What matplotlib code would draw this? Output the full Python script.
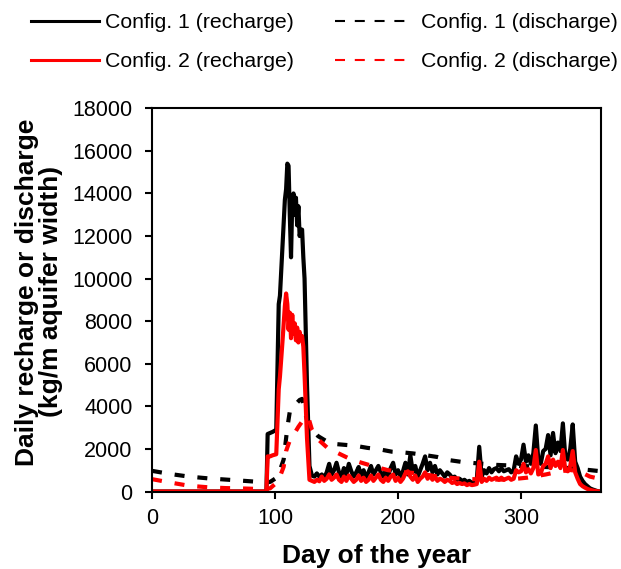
import matplotlib
matplotlib.use("Agg")
import matplotlib.pyplot as plt
from matplotlib.lines import Line2D

plt.rcParams["font.family"] = ["Liberation Sans", "DejaVu Sans"]

# recharge, spring event (day, kg/m)
early_days = [0, 93, 94, 96, 98, 101, 103, 104, 106, 108,
              109, 110, 111, 112, 113, 114, 115, 116, 117, 118,
              119, 120, 121, 122, 123, 124, 126, 128]
rc1_early = [0, 0, 2700, 2750, 2800, 2900, 8800, 9200, 11500, 13700,
             14200, 15400, 15300, 13000, 11000, 13600, 14000, 13000, 13800, 12500,
             13400, 12000, 12300, 12300, 11000, 10000, 5000, 1200]
rc2_early = [0, 0, 1650, 1650, 1700, 1750, 4800, 5400, 7000, 8700,
             9300, 8800, 7600, 8400, 7200, 8300, 7400, 7900, 7100, 7700,
             7000, 7500, 7200, 7300, 6800, 5500, 2500, 550]

# recharge, rest of the year, every second day from 130 plus day 365
late_days = list(range(130, 365, 2)) + [365]
rc1_late = [750, 700, 850, 700, 800, 650, 900, 1300, 800, 1000,
            1350, 900, 700, 1100, 800, 1300, 950, 700, 900, 1150,
            750, 1000, 650, 900, 1200, 800, 1000, 1200, 900, 700,
            1000, 750, 1100, 1350, 800, 1000, 700, 950, 1350, 800,
            1700, 900, 1200, 700, 1000, 1300, 1650, 1000, 1350, 900,
            1200, 800, 1000, 850, 700, 900, 800, 650, 700, 550,
            600, 500, 550, 450, 500, 400, 450, 550, 2100, 700,
            1000, 850, 1100, 900, 1050, 1100, 950, 1100, 950, 1000,
            1050, 900, 1000, 1650, 1300, 1500, 2200, 1400, 1700, 1300,
            1800, 3100, 1500, 1300, 1900, 2000, 2650, 1700, 2750, 1800,
            2300, 1900, 3200, 1600, 1500, 2000, 3150, 1400, 1100, 700,
            500, 350, 250, 150, 100, 60, 20, 0, 0]
rc2_late = [500, 450, 550, 480, 700, 500, 600, 800, 550, 650,
            800, 550, 450, 700, 500, 750, 600, 450, 550, 750,
            500, 650, 450, 550, 750, 500, 650, 800, 550, 450,
            650, 500, 700, 800, 500, 650, 450, 600, 850, 950,
            700, 550, 750, 450, 600, 700, 900, 600, 750, 550,
            700, 500, 600, 550, 450, 550, 500, 400, 450, 350,
            400, 350, 380, 300, 350, 300, 320, 350, 1400, 450,
            600, 500, 650, 550, 600, 650, 550, 650, 550, 600,
            650, 550, 600, 1000, 900, 950, 1300, 900, 1050, 850,
            1100, 1950, 800, 850, 1200, 1300, 1650, 1100, 1500, 1200,
            1400, 1100, 1950, 1000, 950, 1200, 1900, 900, 600, 350,
            250, 180, 120, 80, 50, 30, 10, 0, 0]

# discharge
dc1_days = [0, 15, 30, 45, 60, 75, 92, 96, 100, 104,
            107, 110, 112, 116, 120, 122, 124, 127, 130, 135,
            145, 155, 165, 175, 185, 195, 205, 212, 223, 232,
            242, 253, 265, 280, 300, 320, 340, 352, 365]
dc1 = [970, 820, 700, 620, 560, 500, 430, 450, 600, 1000,
       1500, 3000, 3750, 4050, 4300, 4350, 3800, 3150, 2950, 2600,
       2250, 2200, 2150, 2050, 1980, 1870, 1830, 1790, 1700, 1620,
       1470, 1380, 1320, 1250, 1200, 1150, 1100, 1030, 950]
dc2_days = [0, 15, 30, 45, 60, 75, 92, 96, 100, 104,
            107, 109, 112, 116, 119, 124, 127, 130, 135, 143,
            152, 162, 171, 182, 192, 204, 215, 224, 234, 245,
            256, 270, 290, 305, 320, 332, 340, 348, 356, 365]
dc2 = [580, 420, 270, 200, 160, 140, 110, 150, 350, 700,
       1160, 1900, 2400, 2750, 3040, 3450, 3500, 2900, 2450, 2030,
       1780, 1500, 1340, 1150, 1000, 910, 860, 780, 690, 630,
       590, 560, 560, 650, 800, 950, 1010, 930, 700, 580]

labels = ["Config. 1 (recharge)", "Config. 2 (recharge)",
          "Config. 1 (discharge)", "Config. 2 (discharge)"]

fig = plt.figure(figsize=(6.21, 5.69), dpi=100)
ax = fig.add_axes([0.2448, 0.1362, 0.723, 0.6735])

dash = (0, (2.4, 3.1))
ax.plot(early_days + late_days, rc1_early + rc1_late, color="black", lw=3)
ax.plot(dc1_days, dc1, color="black", lw=3, linestyle=dash)
ax.plot(early_days + late_days, rc2_early + rc2_late, color="red", lw=3)
ax.plot(dc2_days, dc2, color="red", lw=3, linestyle=dash)

ax.set_xlim(0, 365)
ax.set_ylim(0, 18000)
ax.set_xticks([0, 100, 200, 300])
ax.set_yticks(range(0, 18001, 2000))
ax.tick_params(direction="out", length=5, width=1.5, labelsize=15.5)
ax.tick_params(axis="y", pad=9)
ax.tick_params(axis="x", pad=7)
for s in ax.spines.values():
    s.set_linewidth(1.5)

ax.set_xlabel("Day of the year", fontsize=19, fontweight="bold", labelpad=11)
fig.text(0.062, 0.487, "Daily recharge or discharge\n(kg/m aquifer width)",
         rotation=90, ha="center", va="center", fontsize=19,
         fontweight="bold", linespacing=1.0)

# legend above the axes: solid lines on the left, dashed on the right
leg_kw = dict(loc="upper left", frameon=False, fontsize=15.3,
              labelspacing=0.95, borderpad=0, borderaxespad=0)
solid = [Line2D([], [], color="black", lw=2.2),
         Line2D([], [], color="red", lw=2.2)]
dashed = [Line2D([], [], color="black", lw=1.5, linestyle=(0, (4.8, 4.7))),
          Line2D([], [], color="red", lw=1.5, linestyle=(0, (4.8, 4.7)))]
fig.legend(solid, labels[:2], bbox_to_anchor=(31 / 621, 1 - 13 / 569),
           handlelength=3.2, handletextpad=0.3, **leg_kw)
fig.legend(dashed, labels[2:], bbox_to_anchor=(335 / 621, 1 - 13 / 569),
           handlelength=3.62, handletextpad=0.45, **leg_kw)

fig.savefig("out.png", dpi=100)
